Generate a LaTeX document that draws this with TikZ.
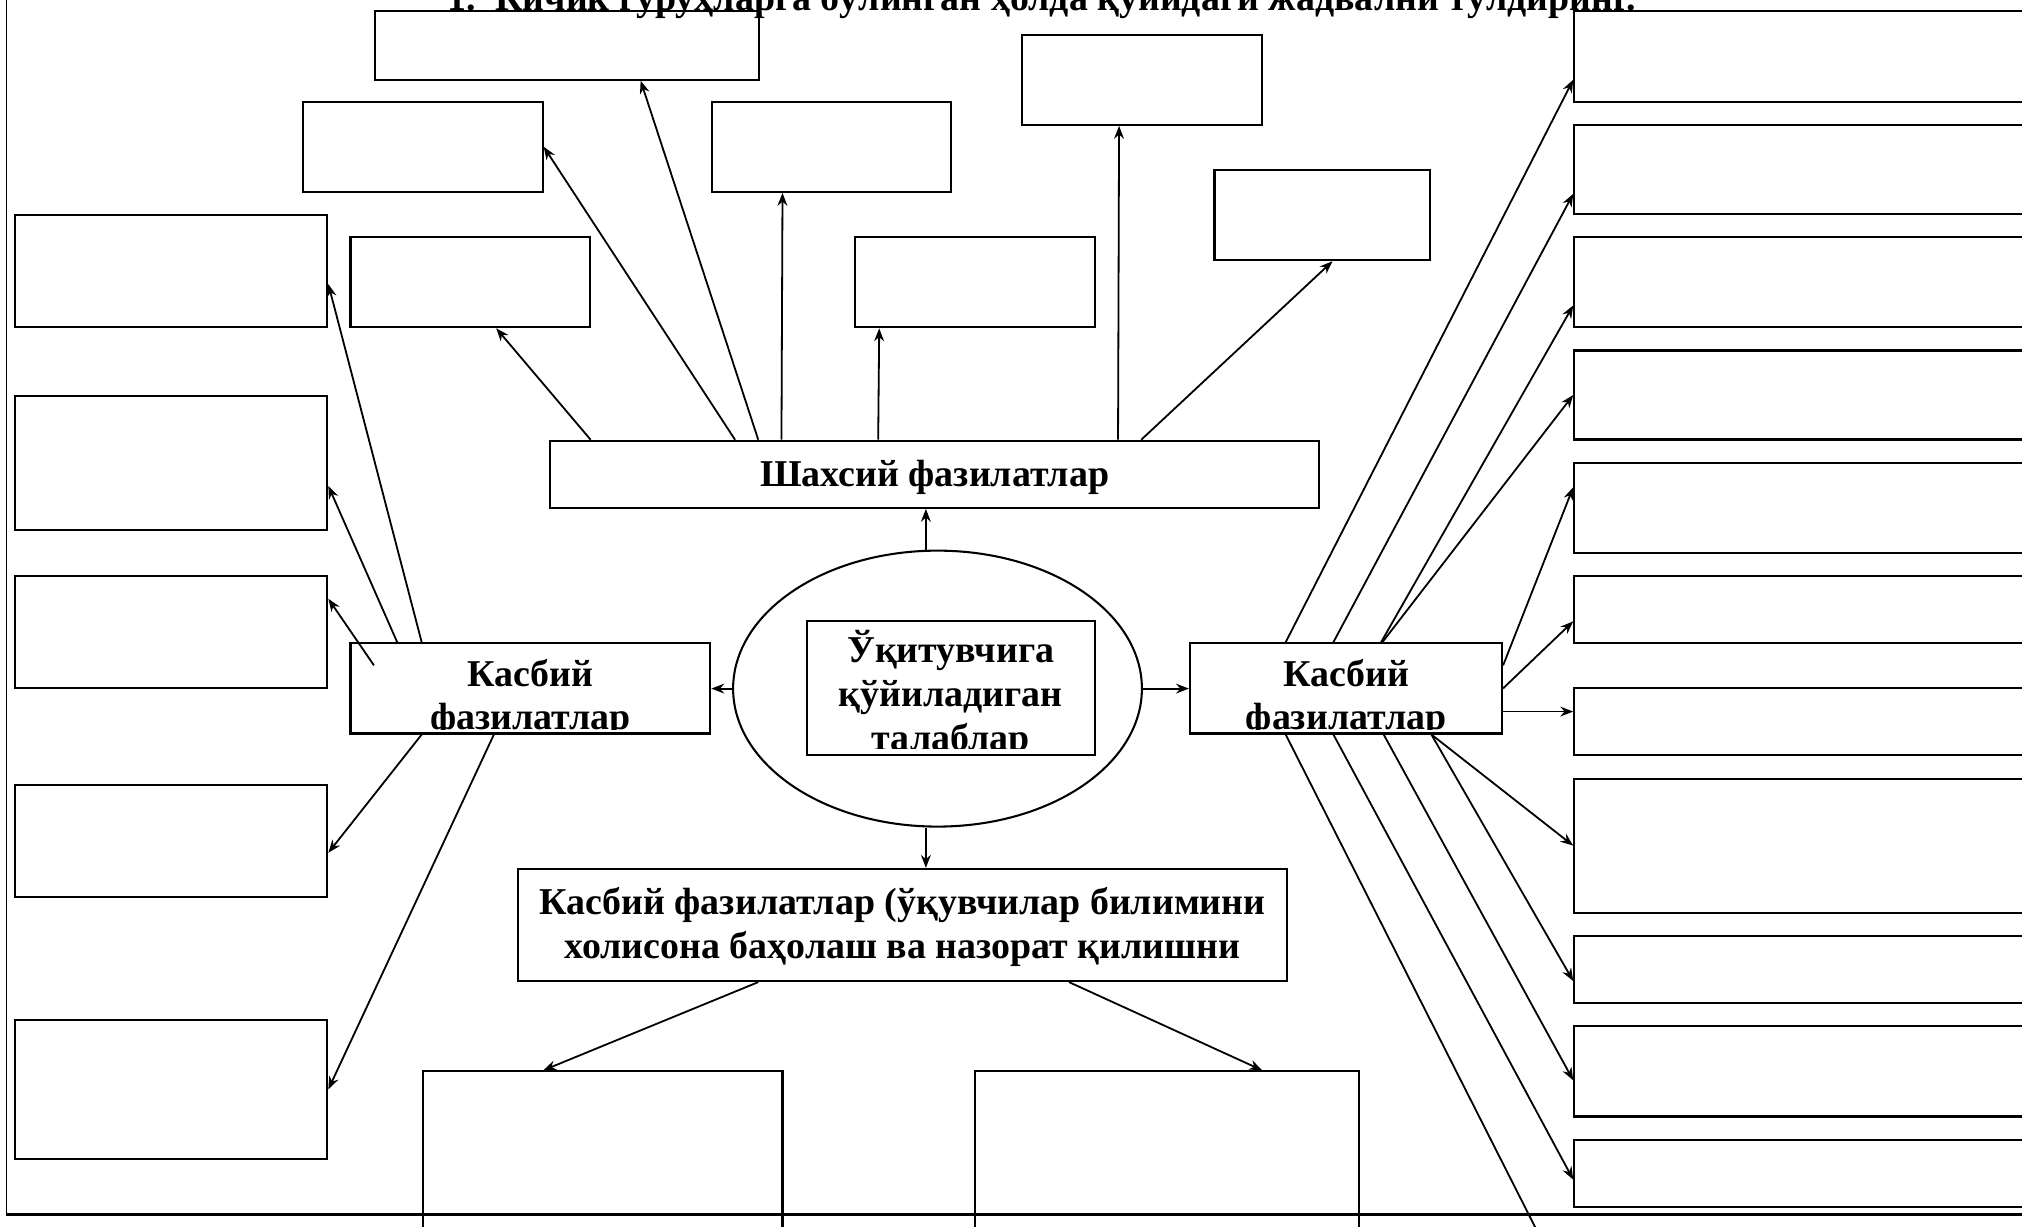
\documentclass[tikz,border=0pt]{standalone}
\usepackage{fontspec}
\setmainfont{Liberation Serif}
\usetikzlibrary{arrows.meta,shapes.geometric,calc}

\tikzset{
  box/.style={draw, line width=0.8pt, inner sep=0pt, anchor=north west},
  lbl/.style={inner sep=0pt, anchor=base, font=\fontsize{14.7}{17}\selectfont\bfseries},
  arr/.style={line width=0.7pt, -{Stealth[length=5pt,width=3.8pt]}},
}

\begin{document}
\begin{tikzpicture}[x=0.5pt,y=0.5pt,yscale=-1]
\useasboundingbox (0,0) rectangle (1568,951);
\clip (0,0) rectangle (1568,951);
% frame of the page
\draw[line width=0.7pt] (5,-20) -- (5,942);
\draw[line width=1pt] (5,942) -- (1600,942);

% title
\node[lbl, anchor=base west] (title) at (347,8) {1.\ \ Кичик гуруҳларга бўлинган ҳолда қуйидаги жадвални тўлдиринг.};

% top boxes
\node[box, minimum width=149pt, minimum height=26.5pt] (t1) at (290,8) {};
\node[box, minimum width=93pt, minimum height=35pt] (t2) at (234,78) {};
\node[box, minimum width=93pt, minimum height=35pt] (t3) at (551,78) {};
\node[box, minimum width=93pt, minimum height=35pt] (t4) at (792,26) {};
\node[box, minimum width=93pt, minimum height=35pt] (t5) at (271,183) {};
\node[box, minimum width=93pt, minimum height=35pt] (t6) at (662,183) {};
\node[box, minimum width=83.5pt, minimum height=35pt] (t7) at (941,131) {};

% left boxes
\node[box, minimum width=121pt, minimum height=43.5pt] (l1) at (11,166) {};
\node[box, minimum width=121pt, minimum height=52pt] (l2) at (11,306) {};
\node[box, minimum width=121pt, minimum height=43.5pt] (l3) at (11,446) {};
\node[box, minimum width=121pt, minimum height=43.5pt] (l4) at (11,608) {};
\node[box, minimum width=121pt, minimum height=54pt] (l5) at (11,790) {};

% right boxes
\node[box, minimum width=200pt, minimum height=35pt] (r1) at (1220,8) {};
\node[box, minimum width=200pt, minimum height=34.5pt] (r2) at (1220,96) {};
\node[box, minimum width=200pt, minimum height=35pt] (r3) at (1220,183) {};
\node[box, minimum width=200pt, minimum height=34.5pt] (r4) at (1220,271) {};
\node[box, minimum width=200pt, minimum height=35pt] (r5) at (1220,358) {};
\node[box, minimum width=200pt, minimum height=26pt] (r6) at (1220,446) {};
\node[box, minimum width=200pt, minimum height=26pt] (r7) at (1220,533) {};
\node[box, minimum width=200pt, minimum height=52pt] (r8) at (1220,603) {};
\node[box, minimum width=200pt, minimum height=26pt] (r9) at (1220,725) {};
\node[box, minimum width=200pt, minimum height=35pt] (r10) at (1220,795) {};
\node[box, minimum width=200pt, minimum height=26pt] (r11) at (1220,883) {};

% bottom boxes
\node[box, minimum width=139.5pt, minimum height=100pt] (b1) at (327,830) {};
\node[box, minimum width=149pt, minimum height=100pt] (b2) at (755,830) {};

% middle part
\node[box, minimum width=298pt, minimum height=26pt] (shx) at (426,341) {};
\node[lbl] (shxtxt) at ($(shx.north)+(0,36)$) {Шахсий фазилатлар};

\node[draw, ellipse, line width=0.8pt, inner sep=0pt, minimum width=158.5pt, minimum height=107pt] (ell) at (727,534) {};
\node[box, minimum width=111.5pt, minimum height=52pt] (req) at (625,481) {};
\begin{scope}
\clip ($(req.north west)+(2,2)$) rectangle ($(req.south east)+(-2,-6)$);
\node[lbl] (reqA) at ($(req.north)+(0,33)$) {Ўқитувчига};
\node[lbl] (reqB) at ($(req.north)+(0,67)$) {қўйиладиган};
\node[lbl] (reqC) at ($(req.north)+(0,101)$) {талаблар};
\end{scope}

\node[box, minimum width=139.5pt, minimum height=35pt] (kl) at (271,498) {};
\begin{scope}
\clip ($(kl.north west)+(2,2)$) rectangle ($(kl.south east)+(-2,-4)$);
\node[lbl] (klA) at ($(kl.north)+(0,34)$) {Касбий};
\node[lbl] (klB) at ($(kl.north)+(0,68)$) {фазилатлар};
\end{scope}

\node[box, minimum width=121pt, minimum height=35pt] (kr) at (922,498) {};
\begin{scope}
\clip ($(kr.north west)+(2,2)$) rectangle ($(kr.south east)+(-2,-4)$);
\node[lbl] (krA) at ($(kr.north)+(0,34)$) {Касбий};
\node[lbl] (krB) at ($(kr.north)+(0,68)$) {фазилатлар};
\end{scope}

\node[box, minimum width=298pt, minimum height=43.5pt] (bb) at (401,673) {};
\node[lbl] (bbA) at ($(bb.north)+(0,36)$) {Касбий фазилатлар (ўқувчилар билимини};
\node[lbl] (bbB) at ($(bb.north)+(0,70)$) {холисона баҳолаш ва назорат қилишни};

% arrows from the ellipse
\coordinate (eN) at ($(ell.north)+(-9,0)$);
\coordinate (eS) at ($(ell.south)+(-9,0)$);
\draw[arr] (eN) -- (eN |- shx.south);
\draw[arr] (eS) -- (eS |- bb.north);
\draw[arr] (ell.west) -- (ell.west -| kl.east);
\draw[arr] (ell.east) -- (ell.east -| kr.west);

% arrows up
\draw[arr] ($(shx.north west)+(32,0)$) -- ($(t5.south)+(20,0)$);
\draw[arr] ($(shx.north west)+(144,0)$) -- (t2.east);
\draw[arr] ($(shx.north west)+(162,0)$) -- ($(t1.south)+(57,0)$);
\draw[arr] ($(shx.north west)+(180,0)$) -- ($(t3.south)+(-38,0)$);
\draw[arr] ($(shx.north west)+(255,0)$) -- ($(t6.south)+(-74,0)$);
\draw[arr] ($(shx.north west)+(441,0)$) -- ($(t4.south)+(-18,0)$);
\draw[arr] ($(shx.north west)+(459,0)$) -- ($(t7.south)+(8,0)$);

% arrows left
\draw[arr] ($(kl.north west)+(56,0)$) -- ($(l1.east)+(0,10)$);
\draw[arr] ($(kl.north west)+(37,0)$) -- ($(l2.east)+(0,18)$);
\draw[arr] ($(kl.north west)+(19,18)$) -- ($(l3.east)+(0,-26)$);
\draw[arr] ($(kl.south west)+(56,0)$) -- ($(l4.east)+(0,9)$);
\draw[arr] ($(kl.south west)+(112,0)$) -- (l5.east);

% arrows right
\draw[arr] ($(kr.north west)+(75,0)$) -- ($(r1.west)+(0,18)$);
\draw[arr] ($(kr.north west)+(112,0)$) -- ($(r2.west)+(0,19)$);
\draw[arr] ($(kr.north west)+(149,0)$) -- ($(r3.west)+(0,18)$);
\draw[arr] ($(kr.north west)+(150,0)$) -- (r4.west);
\draw[arr] ($(kr.north east)+(0,18)$) -- ($(r5.west)+(0,-16)$);
\draw[arr] (kr.east) -- ($(r6.west)+(0,9)$);
\draw[arr] ($(kr.east)+(0,18)$) -- ($(r7.west)+(0,-8)$);
\draw[arr] ($(kr.south west)+(188,0)$) -- (r8.west);
\draw[arr] ($(kr.south west)+(188,0)$) -- ($(r9.west)+(0,9)$);
\draw[arr] ($(kr.south west)+(151,0)$) -- ($(r10.west)+(0,7)$);
\draw[arr] ($(kr.south west)+(112,0)$) -- ($(r11.west)+(0,5)$);
\coordinate (rOff) at (1220,1010);
\draw[arr] ($(kr.south west)+(75,0)$) -- (rOff);

% arrows down
\draw[arr] ($(bb.south west)+(187,0)$) -- ($(b1.north)+(-46,0)$);
\draw[arr] ($(bb.south west)+(428,0)$) -- ($(b2.north)+(74,0)$);
\end{tikzpicture}
\end{document}
